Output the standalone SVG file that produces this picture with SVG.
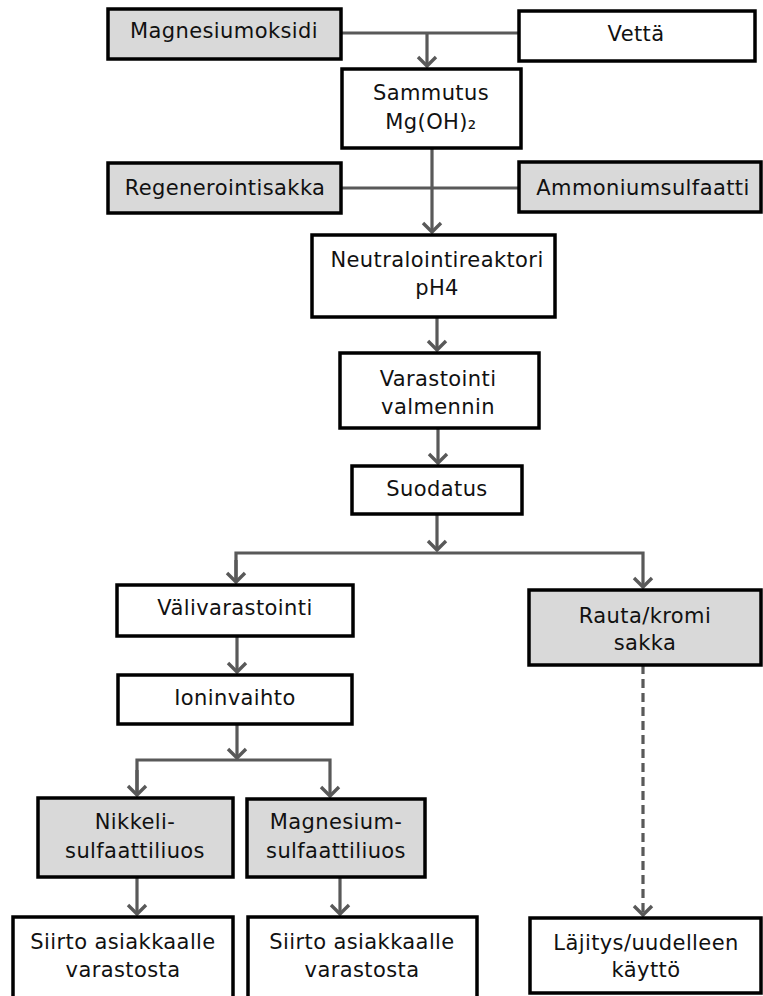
<svg xmlns="http://www.w3.org/2000/svg" width="763" height="996" viewBox="0 0 763 996">
<style>
.box{fill:#ffffff;stroke:#000000;stroke-width:3.5}
.gray{fill:#d9d9d9}
.t{font-family:"DejaVu Sans","Verdana",sans-serif;font-size:21px;fill:#111111;text-anchor:middle;letter-spacing:0.4px}
.c{fill:none;stroke:#595959;stroke-width:3.2}
.dash{stroke-dasharray:9 5}
</style>
<defs>
<marker id="arr" viewBox="-12 -12 14 24" markerWidth="14" markerHeight="24" refX="0" refY="0" orient="auto" markerUnits="userSpaceOnUse">
<path d="M-9,-9 L0,0 L-9,9" fill="none" stroke="#595959" stroke-width="3.4"/>
</marker>
</defs>
<rect width="763" height="996" fill="#ffffff"/>
<g id="connectors">
<path class="c" d="M341,33 H519"/>
<path class="c" d="M427,33 V66" marker-end="url(#arr)"/>
<path class="c" d="M341,188 H519"/>
<path class="c" d="M432,148 V232" marker-end="url(#arr)"/>
<path class="c" d="M437,317 V350" marker-end="url(#arr)"/>
<path class="c" d="M438,428 V463" marker-end="url(#arr)"/>
<path class="c" d="M437,514 V550" marker-end="url(#arr)"/>
<path class="c" d="M236,582 V553 H643 V587" marker-end="url(#arr)"/>
<path class="c" d="M236,560 V582" marker-end="url(#arr)"/>
<path class="c" d="M237,636 V672" marker-end="url(#arr)"/>
<path class="c" d="M237,724 V758" marker-end="url(#arr)"/>
<path class="c" d="M137,795 V760 H330 V796" marker-end="url(#arr)"/>
<path class="c" d="M137,770 V795" marker-end="url(#arr)"/>
<path class="c" d="M137,877 V914" marker-end="url(#arr)"/>
<path class="c" d="M340,877 V914" marker-end="url(#arr)"/>
<path class="c dash" d="M643,665 V915" marker-end="url(#arr)"/>
</g>
<g id="magnesiumoksidi"><rect class="box gray" x="108" y="9" width="233" height="50"/><text class="t" x="224" y="38">Magnesiumoksidi</text></g>
<g id="vetta"><rect class="box" x="519" y="11" width="236" height="50"/><text class="t" x="636" y="41">Vettä</text></g>
<g id="sammutus"><rect class="box" x="342" y="69" width="179" height="79"/><text class="t" x="431" y="100">Sammutus</text><text class="t" x="431" y="129">Mg(OH)₂</text></g>
<g id="regenerointisakka"><rect class="box gray" x="108" y="163" width="233" height="50"/><text class="t" x="225" y="195">Regenerointisakka</text></g>
<g id="ammoniumsulfaatti"><rect class="box gray" x="519" y="162" width="242" height="50"/><text class="t" x="643" y="195">Ammoniumsulfaatti</text></g>
<g id="neutralointireaktori"><rect class="box" x="312" y="235" width="243" height="82"/><text class="t" x="437" y="267">Neutralointireaktori</text><text class="t" x="437" y="295">pH4</text></g>
<g id="varastointi"><rect class="box" x="340" y="353" width="199" height="75"/><text class="t" x="438" y="386">Varastointi</text><text class="t" x="438" y="414">valmennin</text></g>
<g id="suodatus"><rect class="box" x="352" y="466" width="170" height="48"/><text class="t" x="437" y="496">Suodatus</text></g>
<g id="valivarastointi"><rect class="box" x="117" y="585" width="236" height="51"/><text class="t" x="235" y="615">Välivarastointi</text></g>
<g id="ioninvaihto"><rect class="box" x="118" y="675" width="234" height="49"/><text class="t" x="235" y="705">Ioninvaihto</text></g>
<g id="rautakromi"><rect class="box gray" x="529" y="590" width="232" height="75"/><text class="t" x="645" y="623">Rauta/kromi</text><text class="t" x="645" y="650">sakka</text></g>
<g id="nikkeli"><rect class="box gray" x="38" y="798" width="195" height="79"/><text class="t" x="135" y="829">Nikkeli-</text><text class="t" x="135" y="858">sulfaattiliuos</text></g>
<g id="magnesiumsulfaatti"><rect class="box gray" x="247" y="799" width="178" height="78"/><text class="t" x="336" y="829">Magnesium-</text><text class="t" x="336" y="858">sulfaattiliuos</text></g>
<g id="siirto1"><rect class="box" x="13" y="917" width="220" height="90"/><text class="t" x="123" y="949">Siirto asiakkaalle</text><text class="t" x="123" y="977">varastosta</text></g>
<g id="siirto2"><rect class="box" x="248" y="917" width="229" height="90"/><text class="t" x="362" y="949">Siirto asiakkaalle</text><text class="t" x="362" y="977">varastosta</text></g>
<g id="lajitys"><rect class="box" x="530" y="918" width="231" height="75"/><text class="t" x="646" y="950">Läjitys/uudelleen</text><text class="t" x="646" y="977">käyttö</text></g>
</svg>
